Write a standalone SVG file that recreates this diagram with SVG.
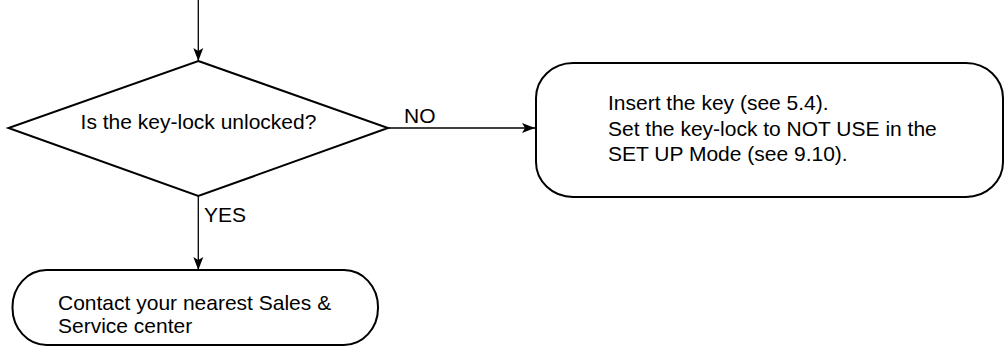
<svg xmlns="http://www.w3.org/2000/svg" width="1005" height="347" viewBox="0 0 1005 347">
<style>
.shape{fill:#fff;stroke:#000;stroke-width:2}
.conn{fill:none;stroke:#000;stroke-width:1.3}
text{font-family:"Liberation Sans",Arial,sans-serif;font-size:21px;fill:#000}
</style>
<defs>
<marker id="arr" markerUnits="userSpaceOnUse" viewBox="-14 -6 15 12" refX="0" refY="0" markerWidth="15" markerHeight="12" orient="auto">
<path d="M0,0 L-13,-5 L-10,0 L-13,5 Z" fill="#000"/>
</marker>
</defs>
<rect width="1005" height="347" fill="#fff"/>
<g id="connectors">
<line class="conn" x1="198.3" y1="0" x2="198.3" y2="61" marker-end="url(#arr)"/>
<line class="conn" x1="388" y1="128" x2="535" y2="128" marker-end="url(#arr)"/>
<line class="conn" x1="198.3" y1="196" x2="198.3" y2="270" marker-end="url(#arr)"/>
<text x="404" y="123">NO</text>
<text x="204" y="222">YES</text>
</g>
<g id="decision">
<polygon class="shape" points="198.3,61 388,128 198.3,196 8.5,128"/>
<text x="198.5" y="129" text-anchor="middle">Is the key-lock unlocked?</text>
</g>
<g id="action">
<rect class="shape" x="536" y="63" width="467" height="134" rx="37" ry="35"/>
<text x="608" y="110">Insert the key (see 5.4).</text>
<text x="608" y="135.5">Set the key-lock to NOT USE in the</text>
<text x="608" y="161">SET UP Mode (see 9.10).</text>
</g>
<g id="terminal">
<rect class="shape" x="12.5" y="270" width="365.5" height="75" rx="34" ry="37"/>
<text x="58" y="309.5">Contact your nearest Sales &amp;</text>
<text x="58" y="333">Service center</text>
</g>
</svg>
